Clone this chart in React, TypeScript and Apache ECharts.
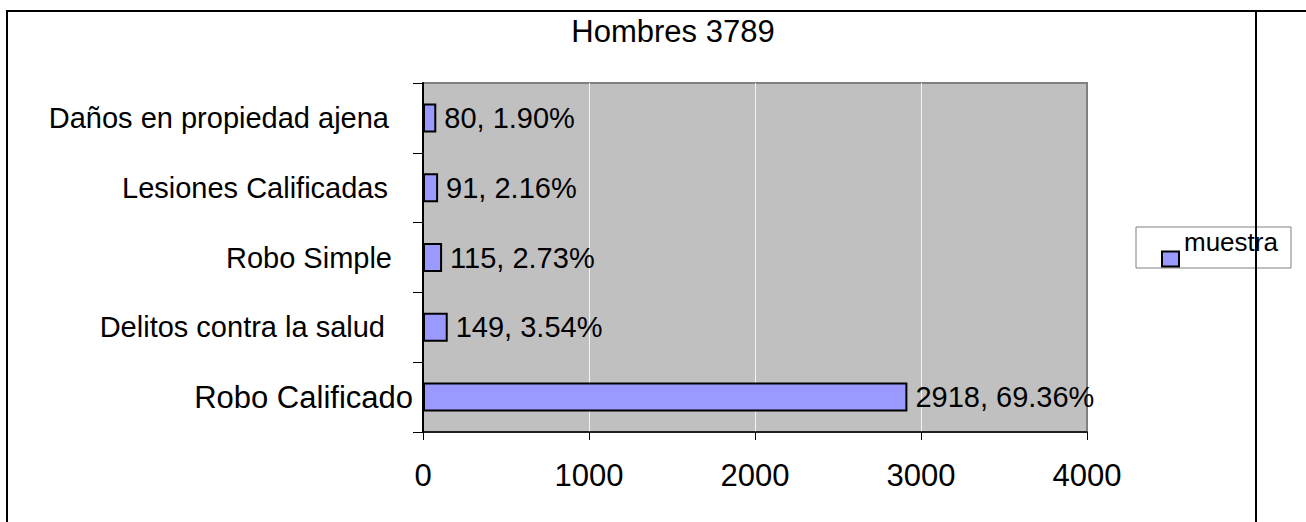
import React, { useEffect, useRef } from "react";
import * as echarts from "echarts";

const categories = [
  "Robo Calificado",
  "Delitos contra la salud",
  "Robo Simple",
  "Lesiones Calificadas",
  "Daños en propiedad ajena",
];
const values = [2918, 149, 115, 91, 80];
const percents = ["69.36%", "3.54%", "2.73%", "2.16%", "1.90%"];
const labelPadRight = [0, 28, 21, 25, 24];
const labelSizes = [31, 29, 29, 29, 29];
const xTicks = { min: 0, max: 4000, interval: 1000 };
const titleText = "Hombres 3789";
const seriesName = "muestra";

const FONT = "'Liberation Sans', Arial, sans-serif";

export default function App() {
  const ref = useRef<HTMLDivElement>(null);
  useEffect(() => {
    document.body.style.margin = "0";
    const chart = echarts.init(ref.current!, null, { renderer: "svg" });
    const rich: any = {};
    categories.forEach((_, i) => {
      rich["c" + i] = {
        fontSize: labelSizes[i],
        fontFamily: FONT,
        color: "#000",
        padding: [0, labelPadRight[i], 0, 0],
      };
    });
    chart.setOption({
      animation: false,
      backgroundColor: "#fff",
      textStyle: { fontFamily: FONT },
      grid: {
        left: 423,
        right: 219,
        top: 83,
        bottom: 90,
        show: true,
        backgroundColor: "#C0C0C0",
        borderColor: "#808080",
        borderWidth: 2,
        containLabel: false,
      },
      legend: {
        show: true,
        left: 1161,
        top: 224,
        padding: 0,
        itemWidth: 17,
        itemHeight: 15,
        icon: "rect",
        z: 10,
        data: [seriesName],
        formatter: (n: string) => n + "\n ",
        textStyle: {
          fontSize: 26,
          fontFamily: FONT,
          color: "#000",
          lineHeight: 35,
        },
        itemStyle: { color: "#9999FF", borderColor: "#000", borderWidth: 2 },
      },
      xAxis: {
        type: "value",
        min: xTicks.min,
        max: xTicks.max,
        interval: xTicks.interval,
        axisLine: { show: true, lineStyle: { color: "#000", width: 1.5 } },
        axisTick: { show: true, length: 8, lineStyle: { color: "#000", width: 1 } },
        axisLabel: {
          fontSize: 31,
          color: "#000",
          margin: 28,
          fontFamily: FONT,
          formatter: (v: number) => String(v),
        },
        splitLine: {
          show: true,
          showMinLine: false,
          showMaxLine: false,
          lineStyle: { color: "#F4F4F4", width: 1 },
        },
      },
      yAxis: {
        type: "category",
        data: categories,
        boundaryGap: true,
        axisLine: { show: true, lineStyle: { color: "#000", width: 2 } },
        axisTick: { show: true, length: 10, alignWithLabel: false, lineStyle: { color: "#000", width: 1 } },
        axisLabel: {
          margin: 10,
          formatter: (v: string) => {
            const i = categories.indexOf(v);
            return "{c" + i + "|" + v + "}";
          },
          rich,
        },
        splitLine: { show: false },
      },
      series: [
        {
          type: "bar",
          name: seriesName,
          data: values,
          barWidth: 29,
          itemStyle: { color: "#9999FF", borderColor: "#000", borderWidth: 2 },
          label: {
            show: true,
            position: "right",
            distance: 8,
            fontSize: 29,
            fontFamily: FONT,
            color: "#000",
            formatter: (p: any) => values[p.dataIndex] + ", " + percents[p.dataIndex],
          },
        },
      ],
      graphic: [
        {
          type: "rect",
          z: 1,
          shape: { x: 1136, y: 227, width: 155, height: 41 },
          style: { fill: "#fff", stroke: "#808080", lineWidth: 1 },
        },
        {
          type: "text",
          z: 5,
          x: 673,
          y: 31,
          style: {
            text: titleText,
            fontSize: 31,
            fontFamily: FONT,
            fill: "#000",
            textAlign: "center",
            textVerticalAlign: "middle",
          },
        },
        {
          type: "line",
          z: 5,
          shape: { x1: 6, y1: 11, x2: 1306, y2: 11 },
          style: { stroke: "#000", lineWidth: 2 },
        },
        {
          type: "line",
          z: 5,
          shape: { x1: 7, y1: 10, x2: 7, y2: 522 },
          style: { stroke: "#000", lineWidth: 2 },
        },
        {
          type: "line",
          z: 5,
          shape: { x1: 1256, y1: 10, x2: 1256, y2: 522 },
          style: { stroke: "#000", lineWidth: 2 },
        },
      ],
    });
    return () => chart.dispose();
  }, []);
  return (
    <div
      ref={ref}
      style={{ position: "absolute", left: 0, top: 0, width: 1306, height: 522 }}
    />
  );
}
